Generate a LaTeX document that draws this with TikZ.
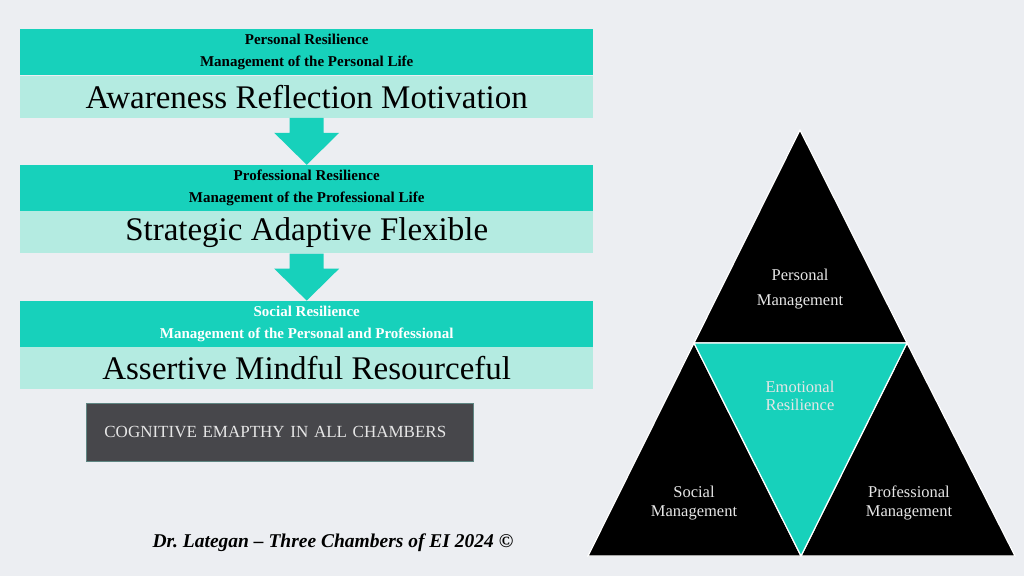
\documentclass[tikz,border=0pt]{standalone}
\usepackage{fontspec}
\setmainfont{Liberation Serif}
\usetikzlibrary{positioning,calc}
\frenchspacing

\definecolor{chamberteal}{HTML}{17D1BB}
\definecolor{chamberlight}{HTML}{B4EBE1}
\definecolor{chambergray}{HTML}{47474B}
\definecolor{slidebg}{HTML}{ECEEF2}
\definecolor{softwhite}{HTML}{E6E6E6}

\tikzset{
    head/.style={rectangle, fill=chamberteal, minimum width=573pt, minimum height=46pt,
        inner sep=0pt, align=center, font=\fontsize{15}{22}\selectfont\bfseries},
    trait/.style={rectangle, fill=chamberlight, minimum width=573pt, minimum height=42pt,
        inner sep=0pt, font=\fontsize{33}{36}\selectfont},
    chamber/.style={draw=white, line width=1.2pt, line join=miter},
    tritext/.style={align=center, text=softwhite, inner sep=0pt},
}

\begin{document}
\begin{tikzpicture}[x=1pt, y=-1pt]
    \fill[slidebg] (0,0) rectangle (1024,576);

    % left column: the three resilience blocks
    \node [head, anchor=north west] (pers) at (20,29)
        {Personal Resilience\\Management of the Personal Life};
    \node [trait, below=0pt of pers] (persT) {Awareness Reflection Motivation};
    \node [head, below=47pt of persT] (prof)
        {Professional Resilience\\Management of the Professional Life};
    \node [trait, below=0pt of prof] (profT) {Strategic Adaptive Flexible};
    \node [head, below=47pt of profT, text=white] (soc)
        {Social Resilience\\Management of the Personal and Professional};
    \node [trait, below=0pt of soc] (socT) {Assertive Mindful Resourceful};

    \foreach \from/\to in {persT/prof, profT/soc}
        \fill [chamberteal] ($(\from.south)+(-17,0)$) -- ($(\from.south)+(17,0)$)
            -- ($(\from.south)+(17,15)$) -- ($(\from.south)+(32.5,15)$)
            -- (\to.north) -- ($(\from.south)+(-32.5,15)$)
            -- ($(\from.south)+(-17,15)$) -- cycle;

    \node [rectangle, anchor=north west, fill=chambergray, draw={rgb,255:red,94;green,133;blue,130},
        line width=0.8pt, minimum height=58pt, text width=351pt, inner xsep=18pt, inner ysep=0pt,
        align=left, text=softwhite, font=\fontsize{17}{20}\selectfont] (cogn) at (86,403)
        {COGNITIVE EMAPTHY IN ALL CHAMBERS};

    \node [font=\fontsize{19.5}{22}\selectfont\bfseries\itshape] (credit) at (333,543)
        {Dr.\ Lategan – Three Chambers of EI 2024 ©};

    % right: the chambers triangle
    \coordinate (apex) at (800,130);
    \coordinate (midL) at (694,343);
    \coordinate (midR) at (907,343);
    \coordinate (baseL) at (588,556);
    \coordinate (baseM) at (801,556);
    \coordinate (baseR) at (1015,556);

    \filldraw [fill=black, chamber] (apex) -- (midL) -- (midR) -- cycle;
    \filldraw [fill=black, chamber] (midL) -- (baseL) -- (baseM) -- cycle;
    \filldraw [fill=black, chamber] (midR) -- (baseM) -- (baseR) -- cycle;
    \filldraw [fill=chamberteal, chamber] (midL) -- (midR) -- (baseM) -- cycle;

    \node [tritext, font=\fontsize{16.5}{25}\selectfont] (personal) at (800,289.5)
        {Personal\\Management};
    \node [tritext, font=\fontsize{16.5}{18.5}\selectfont] (emotional) at (800,396)
        {Emotional\\Resilience};
    \node [tritext, font=\fontsize{16.5}{18.5}\selectfont] (social) at (694,503)
        {Social\\Management};
    \node [tritext, font=\fontsize{16.5}{18.5}\selectfont] (professional) at (909,503)
        {Professional\\Management};
\end{tikzpicture}
\end{document}
